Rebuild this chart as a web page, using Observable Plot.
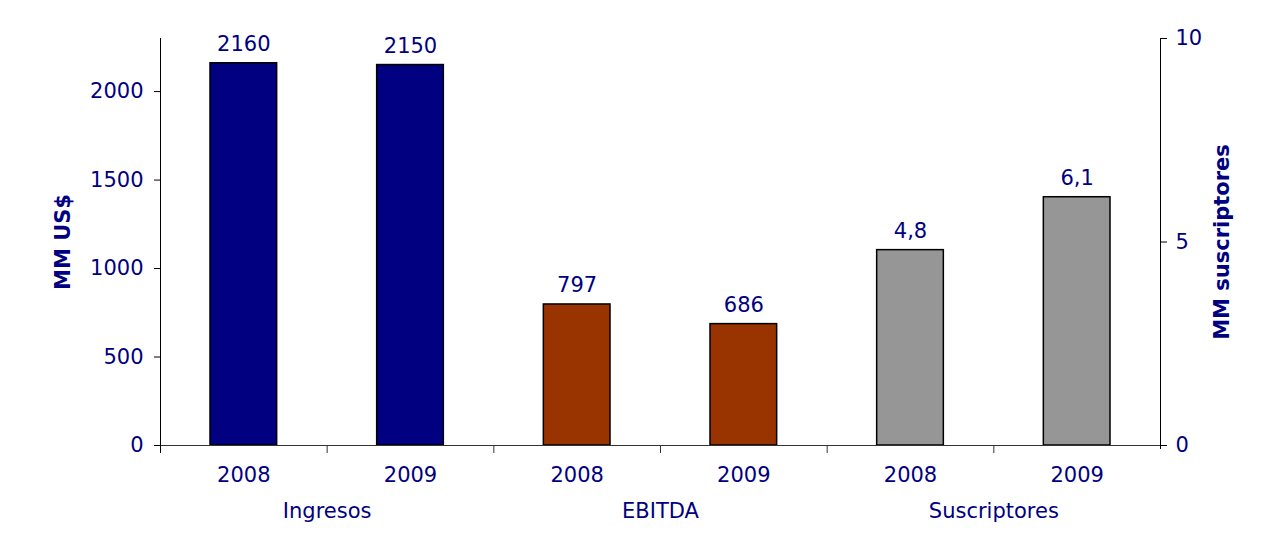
<!DOCTYPE html>
<html>
<head>
<meta charset="utf-8">
<script src="https://cdn.jsdelivr.net/npm/d3@7"></script>
<script src="https://cdn.jsdelivr.net/npm/@observablehq/plot@0.6"></script>
<style>
  html, body { margin: 0; padding: 0; background: #fff; }
</style>
</head>
<body>
<div id="chart"></div>
<script>
// ---- data ----
const groups = ["Ingresos", "EBITDA", "Suscriptores"];
const years = ["2008", "2009"];
const ingresos = [2160, 2150];      // MM US$
const ebitda = [797, 686];          // MM US$
const suscriptores = [4.8, 6.1];    // MM suscriptores
const leftTicks = [0, 500, 1000, 1500, 2000];
const rightTicks = [0, 5, 10];
const leftMax = 2300;
const rightMax = 10;

// ---- build table ----
const k = leftMax / rightMax; // right axis units -> left axis units
const fmtComma = d => String(d).replace(".", ",");
const rows = [];
groups.forEach((g, gi) => {
  const vals = gi === 0 ? ingresos : gi === 1 ? ebitda : suscriptores;
  years.forEach((yr, yi) => {
    const v = vals[yi];
    rows.push({
      key: g + " " + yr,
      group: g,
      year: yr,
      value: gi === 2 ? v * k : v,
      label: gi === 2 ? fmtComma(v) : String(v)
    });
  });
});
const keys = rows.map(d => d.key);
const groupRows = groups.map(g => ({group: g, key: g + " " + years[0]}));

const W = 1272, H = 534, mL = 160, mR = 112, mT = 38, mB = 89;
const step = (W - mL - mR) / keys.length;
const navy = "#000080";

const chart = Plot.plot({
  width: W,
  height: H,
  marginLeft: mL,
  marginRight: mR,
  marginTop: mT,
  marginBottom: mB,
  style: {fontFamily: "'DejaVu Sans', Verdana, sans-serif", fontSize: "21px", background: "white", color: "black"},
  x: {domain: keys, paddingInner: 0.6, paddingOuter: 0.3, round: false, axis: null},
  y: {domain: [0, leftMax], axis: null},
  color: {domain: groups, range: ["#000080", "#993300", "#969696"]},
  marks: [
    Plot.barY(rows, {x: "key", y: "value", fill: "group", stroke: "black", strokeWidth: 1.5}),
    Plot.text(rows, {x: "key", y: "value", text: "label", dy: -19, fill: navy}),
    // left axis
    Plot.axisY({anchor: "left", ticks: leftTicks, tickFormat: d => String(d), tickSize: 6, tickPadding: 11, label: null, stroke: "black", fill: navy}),
    // right axis (subscribers)
    Plot.axisY({anchor: "right", ticks: rightTicks.map(v => v * k), tickFormat: d => String(Math.round(d / k)), tickSize: 6, tickPadding: 9, label: null, stroke: "black", fill: navy}),
    // baseline
    Plot.ruleY([0], {stroke: "#333"}),
    // category boundary ticks
    Plot.ruleX(keys.slice(1), {x: d => d, y1: 0, y2: 0, dx: -step / 2, insetBottom: -8, stroke: "#333"}),
    // vertical axis lines
    Plot.ruleX([keys[0]], {x: d => d, y1: leftMax, y2: 0, dx: -step / 2, insetBottom: -8, stroke: "black"}),
    Plot.ruleX([keys[keys.length - 1]], {x: d => d, y1: leftMax, y2: 0, dx: step / 2, insetBottom: -4, stroke: "black"}),
    // year labels
    Plot.text(rows, {x: "key", y: 0, text: "year", dy: 30, fill: navy}),
    // group labels
    Plot.text(groupRows, {x: "key", y: 0, text: "group", dx: step / 2, dy: 66, fill: navy}),
    // axis titles
    Plot.text(["MM US$"], {frameAnchor: "left", textAnchor: "middle", rotate: -90, dx: -97, fontWeight: "bold", fill: navy}),
    Plot.text(["MM suscriptores"], {frameAnchor: "right", textAnchor: "middle", rotate: -90, dx: 62, fontWeight: "bold", fill: navy})
  ]
});
document.getElementById("chart").appendChild(chart);
</script>
</body>
</html>
